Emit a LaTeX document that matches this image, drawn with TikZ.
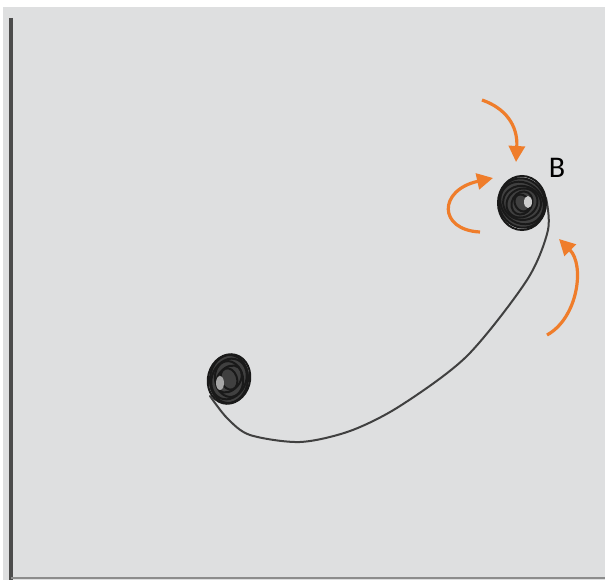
\documentclass[tikz,border=0pt]{standalone}
\usepackage{fontspec}
\setsansfont{Carlito}
\usetikzlibrary{arrows.meta}
\definecolor{panel}{HTML}{DEDFE0}
\definecolor{turnorange}{HTML}{EF7D2B}

\begin{document}
\begin{tikzpicture}[x=0.5pt,y=-0.5pt,
  turn/.style={draw=turnorange,line width=1.6pt,-{Triangle[length=8pt,width=8pt]}},
  trail/.style={draw=black!75,line width=1pt,line cap=round},
  scribble/.style={draw=black!90,line width=1pt}]
\useasboundingbox (0,0) rectangle (605,582);
\fill[panel] (3,7) rectangle (605,580);
\draw[black!70,line width=2pt] (11,18) -- (11,580);
\draw[black!45,line width=1pt] (11,578) -- (605,578);
\coordinate (blobA) at (229,379);
\coordinate (blobB) at (522,203);
\draw[trail] plot[smooth] coordinates {(210,396) (227,418) (250,435) (300,442) (350,431) (400,406) (467,356) (527,280) (548,230) (546,198)};
\fill[black!75,rotate around={-15:(blobA)}] (blobA) ellipse [x radius=20, y radius=24];
\foreach \a/\rx/\ry in {-15/21/25,-5/19/24,-25/17/21,10/14/18,-40/11/15,20/8/11}
  \draw[scribble,rotate around={\a:(blobA)}] (blobA) ellipse [x radius=\rx, y radius=\ry];
\fill[black!35] (220,383) ellipse [x radius=4, y radius=7];
\fill[black!75] (blobB) ellipse [x radius=23, y radius=25];
\foreach \a/\rx/\ry in {0/24/27,20/23/25,50/20/23,80/17/19,120/14/16,150/10/12,30/7/9}
  \draw[scribble,rotate around={\a:(blobB)}] (blobB) ellipse [x radius=\rx, y radius=\ry];
\fill[black!20] (528,202) ellipse [x radius=4, y radius=6];
\node[font=\sffamily\fontsize{15}{15}\selectfont] (lblB) at (557,168) {B};
\draw[turn] (482,100) .. controls (505,108) and (518,125) .. (516,162);
\draw[turn] (480,232) .. controls (438,230) and (438,190) .. (493,178);
\draw[turn] (547,335) .. controls (578,318) and (585,265) .. (559,239);
\end{tikzpicture}
\end{document}
